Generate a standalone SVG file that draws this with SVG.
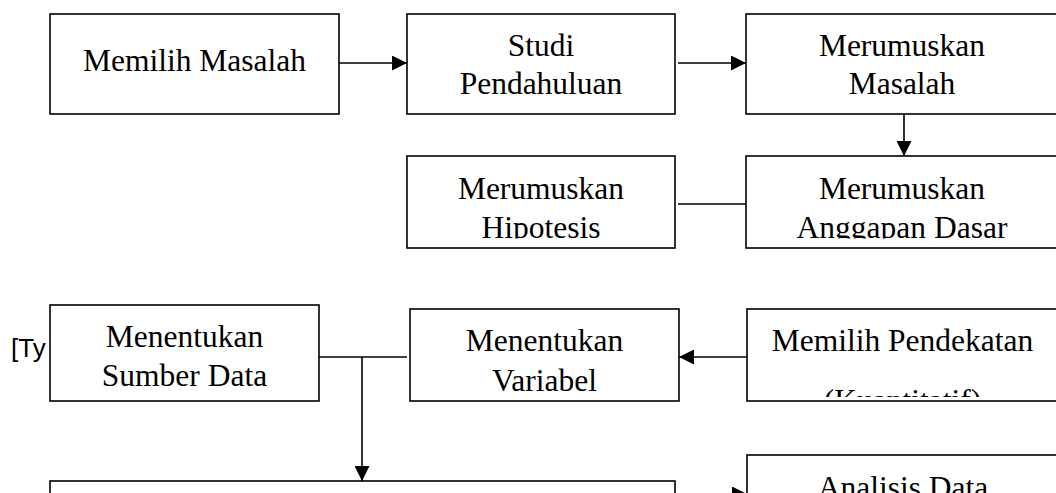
<svg xmlns="http://www.w3.org/2000/svg" width="1056" height="493" viewBox="0 0 1056 493">
<style>
.box{fill:#fff;stroke:#000;stroke-width:1.6}
.t{font-family:"Liberation Serif","Times New Roman",serif;font-size:31.5px;fill:#000;text-anchor:middle}
.c{stroke:#000;stroke-width:1.6;fill:none}
.arr{marker-end:url(#ah)}
.note{font-family:"Liberation Sans",Arial,sans-serif;font-size:26px;fill:#000}
</style>
<defs>
<marker id="ah" markerUnits="userSpaceOnUse" markerWidth="15" markerHeight="15" refX="15" refY="7.5" orient="auto"><path d="M0,0 L15,7.5 L0,15 Z" fill="#000"/></marker>
<clipPath id="clipHip"><rect x="407" y="156" width="268" height="82.5"/></clipPath>
<clipPath id="clipAng"><rect x="746" y="156" width="320" height="82.5"/></clipPath>
<clipPath id="clipPend"><rect x="747" y="309" width="320" height="88"/></clipPath>
</defs>

<text class="note" x="11" y="357">[Ty</text>

<g id="memilih-masalah">
<rect class="box" x="50" y="14" width="289" height="100"/>
<text class="t" x="194.5" y="71">Memilih Masalah</text>
</g>

<g id="studi-pendahuluan">
<rect class="box" x="407" y="14" width="268" height="100"/>
<text class="t" x="541" y="56">Studi</text>
<text class="t" x="541" y="94">Pendahuluan</text>
</g>

<g id="merumuskan-masalah">
<rect class="box" x="746" y="14" width="320" height="100"/>
<text class="t" x="902" y="56">Merumuskan</text>
<text class="t" x="902" y="94">Masalah</text>
</g>

<g id="merumuskan-hipotesis">
<rect class="box" x="407" y="156" width="268" height="92"/>
<g clip-path="url(#clipHip)">
<text class="t" x="541" y="199">Merumuskan</text>
<text class="t" x="541" y="237.5">Hipotesis</text>
</g>
</g>

<g id="merumuskan-anggapan-dasar">
<rect class="box" x="746" y="156" width="320" height="92"/>
<g clip-path="url(#clipAng)">
<text class="t" x="902" y="199">Merumuskan</text>
<text class="t" x="902" y="237.5">Anggapan Dasar</text>
</g>
</g>

<g id="menentukan-sumber-data">
<rect class="box" x="50" y="305" width="269" height="96"/>
<text class="t" x="184.5" y="347">Menentukan</text>
<text class="t" x="184.5" y="386">Sumber Data</text>
</g>

<g id="menentukan-variabel">
<rect class="box" x="410" y="309" width="269" height="92"/>
<text class="t" x="544.5" y="351">Menentukan</text>
<text class="t" x="544.5" y="390.5">Variabel</text>
</g>

<g id="memilih-pendekatan">
<rect class="box" x="747" y="309" width="320" height="92"/>
<g clip-path="url(#clipPend)">
<text class="t" x="902.5" y="351">Memilih Pendekatan</text>
<text class="t" x="902.5" y="410.5">(Kuantitatif)</text>
</g>
</g>

<g id="bottom-box">
<rect class="box" x="50" y="481" width="625" height="40"/>
</g>

<g id="analisis-data">
<rect class="box" x="747" y="455" width="320" height="80"/>
<text class="t" x="903" y="497.5">Analisis Data</text>
</g>

<g id="connectors">
<path class="c arr" d="M339,63 H407"/>
<path class="c arr" d="M678,63 H746"/>
<path class="c arr" d="M904,114 V156"/>
<path class="c" d="M678,204 H746"/>
<path class="c" d="M319,357 H407"/>
<path class="c arr" d="M362,357 V481"/>
<path class="c arr" d="M747,357 H679"/>
<path class="c arr" d="M678,494 H747"/>
</g>
</svg>
